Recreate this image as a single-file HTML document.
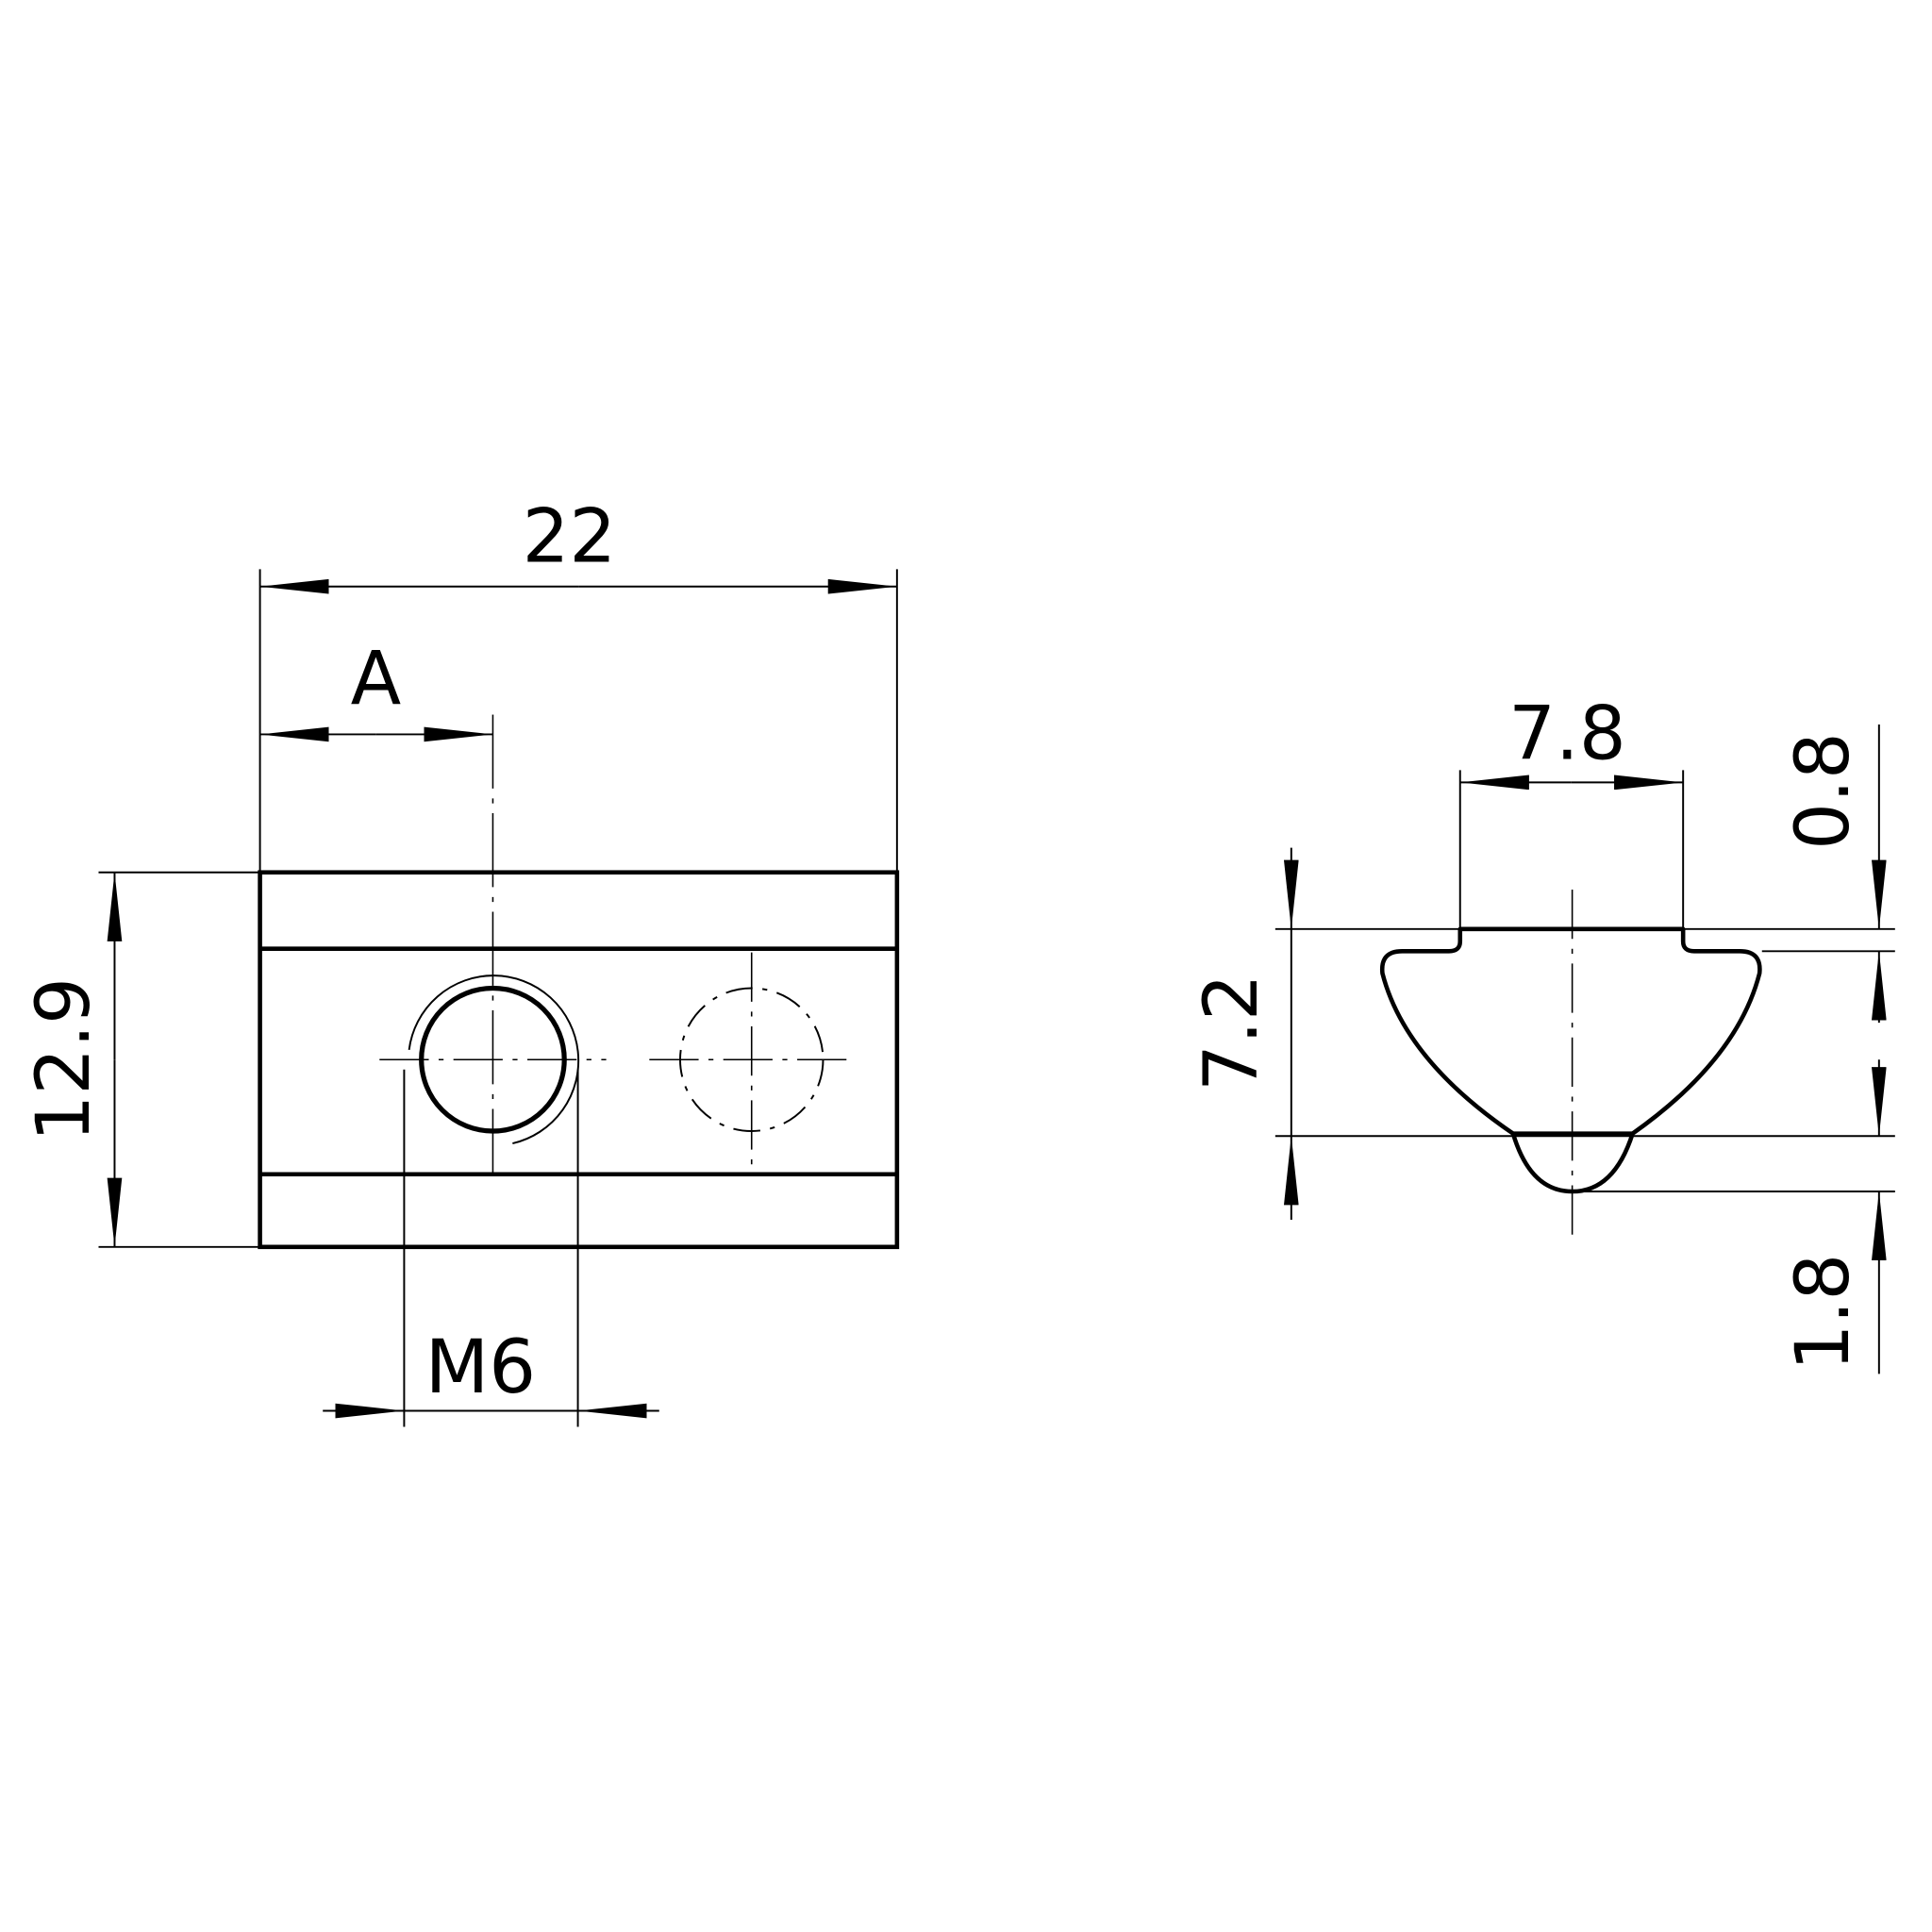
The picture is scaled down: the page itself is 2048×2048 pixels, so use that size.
<!DOCTYPE html>
<html><head><meta charset="utf-8"><style>
html,body{margin:0;padding:0;background:#fff;}
svg{display:block;}
text{font-family:"DejaVu Sans","Liberation Sans",sans-serif;fill:#000;}
</style></head><body>
<svg width="2048" height="2048" viewBox="0 0 1568 1568" xmlns="http://www.w3.org/2000/svg">
<defs>
<marker id="a" viewBox="0 0 56 12" refX="56" refY="6" markerWidth="56" markerHeight="12" markerUnits="userSpaceOnUse" orient="auto">
<path d="M0,0 L56,6 L0,12 Z" fill="#000"/>
</marker>
</defs>
<g stroke="#000" fill="none">
<!-- left view body -->
<rect x="211" y="708" width="517" height="304" stroke-width="3.5"/>
<line x1="211" y1="770" x2="728" y2="770" stroke-width="3.5"/>
<line x1="211" y1="953" x2="728" y2="953" stroke-width="3.5"/>
<circle cx="400" cy="860" r="58" stroke-width="4"/>
<path d="M416,928 A69,69 0 1 0 332,852" stroke-width="1.5"/>
<circle cx="610" cy="860" r="58" stroke-width="1.5" stroke-dasharray="22,8,4,8"/>
<g stroke-width="1.2" stroke-dasharray="40,8,4,8">
<line x1="308" y1="860" x2="492" y2="860"/>
<line x1="527" y1="860" x2="694" y2="860"/>
<line x1="610" y1="773" x2="610" y2="945"/>
</g>
<line x1="400" y1="580" x2="400" y2="953" stroke-width="1.2" stroke-dasharray="60,8,4,8"/>
<!-- dim 22 -->
<g stroke-width="1.5">
<line x1="211" y1="462" x2="211" y2="708"/>
<line x1="728" y1="462" x2="728" y2="708"/>
<line x1="470" y1="476" x2="211" y2="476" marker-end="url(#a)"/>
<line x1="470" y1="476" x2="728" y2="476" marker-end="url(#a)"/>
<!-- dim A -->
<line x1="305" y1="596" x2="211" y2="596" marker-end="url(#a)"/>
<line x1="305" y1="596" x2="400" y2="596" marker-end="url(#a)"/>
<!-- dim 12.9 -->
<line x1="80" y1="708" x2="211" y2="708"/>
<line x1="80" y1="1012" x2="211" y2="1012"/>
<line x1="93" y1="860" x2="93" y2="708" marker-end="url(#a)"/>
<line x1="93" y1="860" x2="93" y2="1012" marker-end="url(#a)"/>
<!-- dim M6 -->
<line x1="328" y1="868" x2="328" y2="1158"/>
<line x1="469" y1="868" x2="469" y2="1158"/>
<line x1="262" y1="1145" x2="328" y2="1145" marker-end="url(#a)"/>
<line x1="535" y1="1145" x2="469" y2="1145" marker-end="url(#a)"/>
<line x1="328" y1="1145" x2="469" y2="1145"/>
</g>
<!-- right profile -->
<path d="M1185,754 L1366,754 L1366,764 Q1366,772 1375,772 L1412,772 Q1430,772 1428,790 Q1410,860 1325,920 Q1310,967 1276,967 Q1242,967 1228,920 Q1140,860 1122,790 Q1120,772 1138,772 L1176,772 Q1185,772 1185,764 Z" stroke-width="3.5" stroke-linejoin="round"/>
<line x1="1228" y1="920" x2="1325" y2="920" stroke-width="3.5"/>
<line x1="1276" y1="722" x2="1276" y2="1005" stroke-width="1.2" stroke-dasharray="40,8,4,8"/>
<g stroke-width="1.5">
<!-- 7.8 -->
<line x1="1185" y1="625" x2="1185" y2="754"/>
<line x1="1366" y1="625" x2="1366" y2="754"/>
<line x1="1275" y1="635" x2="1185" y2="635" marker-end="url(#a)"/>
<line x1="1275" y1="635" x2="1366" y2="635" marker-end="url(#a)"/>
<!-- 7.2 -->
<line x1="1035" y1="754" x2="1185" y2="754"/>
<line x1="1035" y1="922" x2="1538" y2="922"/>
<line x1="1048" y1="688" x2="1048" y2="754" marker-end="url(#a)"/>
<line x1="1048" y1="990" x2="1048" y2="922" marker-end="url(#a)"/>
<line x1="1048" y1="754" x2="1048" y2="922"/>
<!-- 0.8 -->
<line x1="1366" y1="754" x2="1538" y2="754"/>
<line x1="1430" y1="772" x2="1538" y2="772"/>
<line x1="1525" y1="588" x2="1525" y2="754" marker-end="url(#a)"/>
<line x1="1525" y1="830" x2="1525" y2="772" marker-end="url(#a)"/>
<!-- 1.8 -->
<line x1="1280" y1="967" x2="1538" y2="967"/>
<line x1="1525" y1="860" x2="1525" y2="922" marker-end="url(#a)"/>
<line x1="1525" y1="1115" x2="1525" y2="967" marker-end="url(#a)"/>
</g>
</g>
<g font-size="60" text-anchor="middle">
<text x="462" y="456">22</text>
<text x="305" y="571">A</text>
<text x="390" y="1130">M6</text>
<text x="1272" y="616">7.8</text>
<text transform="translate(72,860) rotate(-90)">12.9</text>
<text transform="translate(1020,838) rotate(-90)">7.2</text>
<text transform="translate(1500,642) rotate(-90)">0.8</text>
<text transform="translate(1500,1065) rotate(-90)">1.8</text>
</g>
</svg>
</body></html>
